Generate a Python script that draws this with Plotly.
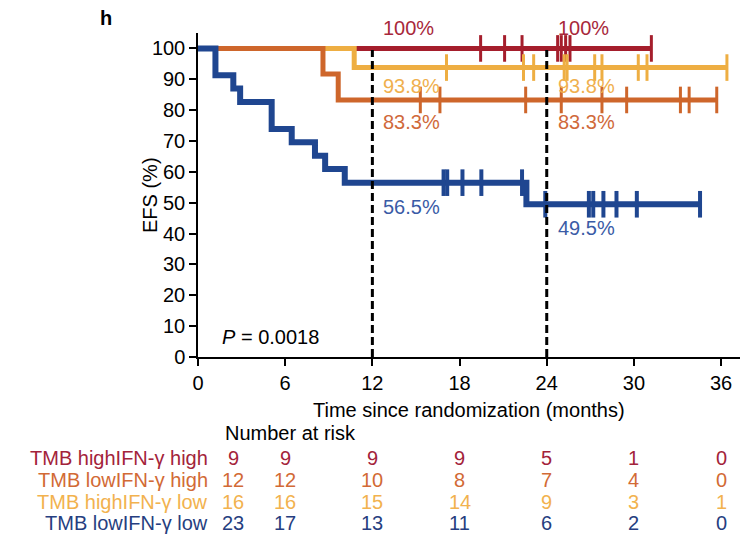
import numpy as np
import plotly.graph_objects as go

# ---------------- data ----------------
group_names = ["TMB highIFN-\u03b3 high", "TMB lowIFN-\u03b3 high",
               "TMB highIFN-\u03b3 low", "TMB lowIFN-\u03b3 low"]

# Kaplan-Meier step points (time in months, EFS %)
hh_time = [0, 31.2]
hh_surv = [100, 100]
hh_cens = [19.45, 21.1, 22.3, 24.75, 25.0, 25.3, 25.6, 31.2]

lh_time = [0, 8.6, 9.65, 35.7]
lh_surv = [100, 91.7, 83.3, 83.3]
lh_cens = [15.3, 16.65, 22.55, 25.0, 27.8, 29.5, 33.2, 33.8, 35.7]

hl_time = [0, 10.75, 36.4]
hl_surv = [100, 93.8, 93.8]
hl_cens = [17.1, 22.4, 23.1, 25.2, 25.4, 27.3, 27.8, 30.3, 30.9, 36.4]

ll_time = [0, 1.2, 2.43, 2.9, 5.07, 6.45, 8.05, 8.75, 10.1, 22.6, 34.55]
ll_surv = [100, 91.3, 87.0, 82.6, 73.9, 69.6, 65.2, 60.9, 56.5, 49.5, 49.5]
ll_cens = [16.9, 17.15, 18.2, 19.5, 22.3, 23.9, 26.9, 27.2, 27.9, 28.8, 30.2, 34.55]

# landmark estimates at 12 and 24 months
landmark_times = [12, 24]
hh_landmark = ["100%", "100%"]
lh_landmark = ["83.3%", "83.3%"]
hl_landmark = ["93.8%", "93.8%"]
ll_landmark = ["56.5%", "49.5%"]

# number at risk table
risk_times = [0, 6, 12, 18, 24, 30, 36]
risk_hh = [9, 9, 9, 9, 5, 1, 0]
risk_lh = [12, 12, 10, 8, 7, 4, 0]
risk_hl = [16, 16, 15, 14, 9, 3, 1]
risk_ll = [23, 17, 13, 11, 6, 2, 0]

p_value_text = "<i>P</i> = 0.0018"

# ---------------- styles ----------------
FONT = "Liberation Sans, Arial, Helvetica, sans-serif"
FS = 20
line_cols = ["#A51E2C", "#CE662B", "#EEAE42", "#1F4690"]
lab_cols = ["#A8283A", "#D0693A", "#F0B04E", "#3A5BA6"]
tab_cols = ["#A3233A", "#D26A35", "#F2B24E", "#263E80"]
label_yshift = [20, -22, -18, -24]
line_w = [5, 5, 5, 6]

series = [
    (hh_time, hh_surv, hh_cens, hh_landmark, risk_hh),
    (lh_time, lh_surv, lh_cens, lh_landmark, risk_lh),
    (hl_time, hl_surv, hl_cens, hl_landmark, risk_hl),
    (ll_time, ll_surv, ll_cens, ll_landmark, risk_ll),
]

def surv_at(times, survs, t):
    idx = np.searchsorted(np.asarray(times), t, side="right") - 1
    return np.asarray(survs)[idx]

fig = go.Figure()

# draw order: red (bottom), yellow, orange, blue (top)
draw_order = [0, 2, 1, 3]
for i in draw_order:
    t, s, c, _, _ = series[i]
    fig.add_trace(go.Scatter(x=t, y=s, mode="lines", line=dict(color=line_cols[i], width=line_w[i], shape="hv"),
                             showlegend=False, hoverinfo="skip"))
    cy = [surv_at(t, s, ct) for ct in c]
    fig.add_trace(go.Scatter(x=c, y=cy, mode="markers",
                             marker=dict(symbol="line-ns", size=19,
                                         line=dict(color=line_cols[i], width=3 if i < 3 else 4)),
                             showlegend=False, hoverinfo="skip", cliponaxis=False))

# landmark dashed lines
for lt in landmark_times:
    fig.add_trace(go.Scatter(x=[lt, lt], y=[0, 99.5], mode="lines",
                             line=dict(color="black", width=3, dash="8px,4px"),
                             showlegend=False, hoverinfo="skip"))

annotations = []
# landmark percentage labels
for i, (t, s, c, lm, _) in enumerate(series):
    for lt, txt in zip(landmark_times, lm):
        annotations.append(dict(x=lt, y=surv_at(t, s, lt), xref="x", yref="y", text=txt,
                                showarrow=False, xanchor="left", yanchor="middle",
                                xshift=9, yshift=label_yshift[i],
                                font=dict(family=FONT, size=FS, color=lab_cols[i])))

# P value
annotations.append(dict(x=0, y=0, xref="paper", yref="paper", text=p_value_text, showarrow=False,
                        xanchor="left", yanchor="middle", xshift=22, yshift=20,
                        font=dict(family=FONT, size=FS, color="black")))

# y axis title
annotations.append(dict(x=0, y=0.5, xref="paper", yref="paper", text="EFS (%)", showarrow=False,
                        textangle=-90, xanchor="center", yanchor="middle", xshift=-48,
                        font=dict(family=FONT, size=FS, color="black")))
# x axis title
annotations.append(dict(x=0.5, y=0, xref="paper", yref="paper", text="Time since randomization (months)",
                        showarrow=False, xanchor="center", yanchor="middle", yshift=-53,
                        font=dict(family=FONT, size=FS, color="black")))
# panel letter
annotations.append(dict(x=0, y=1, xref="paper", yref="paper", text="<b>h</b>", showarrow=False,
                        xanchor="center", yanchor="middle", xshift=-92, yshift=15,
                        font=dict(family=FONT, size=20, color="black")))
# number at risk
annotations.append(dict(x=0, y=0, xref="paper", yref="paper", text="Number at risk", showarrow=False,
                        xanchor="left", yanchor="middle", xshift=25, yshift=-76,
                        font=dict(family=FONT, size=FS, color="black")))
row_shift = [-101, -123, -145, -166]
for i, (_, _, _, _, risk) in enumerate(series):
    annotations.append(dict(x=0, y=0, xref="paper", yref="paper", text=group_names[i], showarrow=False,
                            xanchor="right", yanchor="middle", xshift=12, yshift=row_shift[i],
                            font=dict(family=FONT, size=FS, color=tab_cols[i])))
    for j, (rt, n) in enumerate(zip(risk_times, risk)):
        annotations.append(dict(x=rt, y=0, xref="x", yref="paper", text=str(n), showarrow=False,
                                xanchor="center", yanchor="middle",
                                xshift=35 if j == 0 else 0, yshift=row_shift[i],
                                font=dict(family=FONT, size=FS, color=tab_cols[i])))

axis_common = dict(showline=True, linecolor="black", linewidth=1.5, ticks="outside", ticklen=7,
                   tickwidth=1.5, tickcolor="black", showgrid=False, zeroline=False,
                   tickfont=dict(family=FONT, size=FS, color="black"))

fig.update_layout(
    width=743, height=536,
    margin=dict(l=198, r=3, t=33, b=179),
    paper_bgcolor="white", plot_bgcolor="white",
    xaxis=dict(range=[0, 37.3], tickvals=risk_times, **axis_common),
    yaxis=dict(range=[0, 105], tickvals=list(range(0, 101, 10)), **axis_common),
    annotations=annotations,
    showlegend=False,
)

fig.write_html("out.html")
